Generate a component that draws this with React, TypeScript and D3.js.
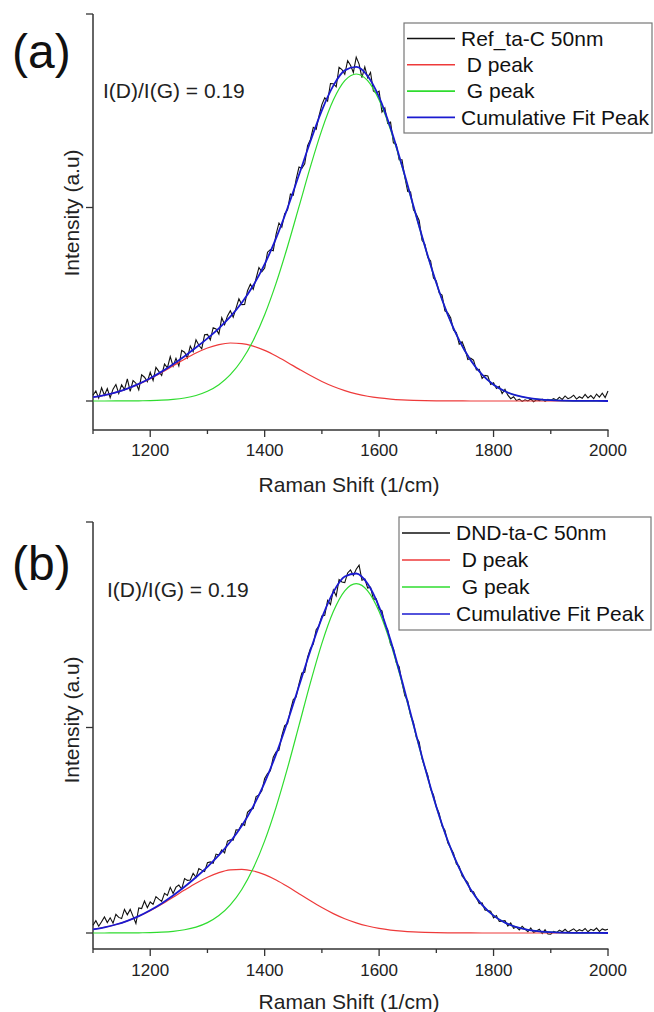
import React from 'react';
import * as d3 from 'd3';

// ---------- data ----------
const fitShift = [1100,1120,1140,1160,1180,1200,1220,1240,1260,1280,1300,1320,1340,1360,1380,1400,1420,1440,1460,1480,1500,1520,1540,1560,1580,1600,1620,1640,1660,1680,1700,1720,1740,1760,1780,1800,1820,1840,1860,1880,1900,1920,1940,1960,1980,2000];

const dPeakA = [0.0197,0.0302,0.0446,0.0635,0.0873,0.1156,0.1477,0.1820,0.2162,0.2477,0.2737,0.2916,0.2997,0.2969,0.2838,0.2615,0.2324,0.1992,0.1647,0.1313,0.1009,0.0748,0.0535,0.0369,0.0245,0.0157,0.0097,0.0058,0.0033,0.0018,0.0010,0.0005,0.0003,0.0001,0,0,0,0,0,0,0,0,0,0,0,0];
const gPeakA = [0.0000,0.0001,0.0002,0.0004,0.0009,0.0020,0.0041,0.0082,0.0156,0.0285,0.0501,0.0842,0.1360,0.2106,0.3128,0.4457,0.6091,0.7985,1.0042,1.2111,1.4012,1.5550,1.6552,1.6900,1.6552,1.5550,1.4012,1.2111,1.0042,0.7985,0.6091,0.4457,0.3128,0.2106,0.1360,0.0842,0.0501,0.0285,0.0156,0.0082,0.0041,0.0020,0.0009,0.0004,0.0002,0.0001];
const cumA = [0.0197,0.0303,0.0448,0.0639,0.0882,0.1176,0.1518,0.1902,0.2318,0.2762,0.3238,0.3758,0.4357,0.5075,0.5966,0.7072,0.8415,0.9977,1.1689,1.3424,1.5021,1.6298,1.7087,1.7269,1.6797,1.5707,1.4109,1.2169,1.0075,0.8003,0.6101,0.4462,0.3131,0.2107,0.1360,0.0842,0.0501,0.0285,0.0156,0.0082,0.0041,0.0020,0.0009,0.0004,0.0002,0.0001];

const dPeakB = [0.0181,0.0278,0.0412,0.0589,0.0814,0.1086,0.1399,0.1740,0.2090,0.2425,0.2716,0.2938,0.3070,0.3097,0.3017,0.2838,0.2578,0.2261,0.1915,0.1567,0.1238,0.0944,0.0695,0.0495,0.0340,0.0225,0.0144,0.0089,0.0053,0.0031,0.0017,0.0009,0.0005,0.0002,0.0001,0,0,0,0,0,0,0,0,0,0,0];
const gPeakB = [0.0000,0.0001,0.0002,0.0004,0.0009,0.0020,0.0041,0.0082,0.0157,0.0287,0.0504,0.0847,0.1368,0.2118,0.3147,0.4483,0.6127,0.8032,1.0101,1.2183,1.4095,1.5642,1.6650,1.7000,1.6650,1.5642,1.4095,1.2183,1.0101,0.8032,0.6127,0.4483,0.3147,0.2118,0.1368,0.0847,0.0504,0.0287,0.0157,0.0082,0.0041,0.0020,0.0009,0.0004,0.0002,0.0001];
const cumB = [0.0181,0.0279,0.0414,0.0593,0.0823,0.1106,0.1440,0.1822,0.2247,0.2712,0.3220,0.3785,0.4438,0.5215,0.6164,0.7321,0.8705,1.0293,1.2016,1.3750,1.5333,1.6586,1.7345,1.7495,1.6990,1.5867,1.4239,1.2272,1.0154,0.8063,0.6144,0.4492,0.3152,0.2120,0.1369,0.0847,0.0504,0.0287,0.0157,0.0082,0.0041,0.0020,0.0009,0.0004,0.0002,0.0001];

// measured spectra, 1100..2000 in steps of 5 cm^-1
const rawStart = 1100;
const rawStep = 5;
const rawA = [
0.030,0.052,0.015,0.068,0.030,0.064,0.017,0.061,0.085,0.039,
0.084,0.059,0.114,0.050,0.106,0.092,0.058,0.135,0.123,0.100,
0.148,0.106,0.174,0.153,0.132,0.191,0.171,0.230,0.180,0.220,
0.181,0.261,0.252,0.223,0.284,0.255,0.316,0.288,0.270,0.342,
0.344,
0.316,0.379,0.372,0.346,0.430,0.395,0.440,0.466,0.433,0.480,
0.528,0.498,0.499,0.570,0.603,0.577,0.633,0.690,0.668,0.687,
0.769,0.782,0.776,0.862,0.920,0.898,0.968,0.988,1.070,1.063,
1.146,1.209,1.203,1.226,1.319,1.352,1.414,1.404,1.474,1.532,
1.567,1.550,1.641,1.640,1.624,1.725,1.713,1.689,1.759,1.735,
1.698,1.777,1.741,1.671,1.727,1.670,1.698,1.602,1.592,1.601,
1.493,1.515,1.434,1.441,1.334,1.326,1.247,1.247,1.155,1.083,
1.080,0.988,0.965,0.933,0.831,0.810,0.742,0.724,0.636,0.620,
0.558,0.547,0.466,0.456,0.431,0.366,0.354,0.293,0.306,0.269,
0.214,0.221,0.211,0.161,0.163,0.116,0.132,0.129,0.086,0.094,
0.065,0.076,0.038,0.060,0.030,0.012,0.022,0.002,0.010,-0.002,
0.006,0.000,0.010,-0.004,0.006,0.002,0.010,-0.002,0.008,0.004,
0.012,0.004,0.020,0.008,0.026,0.012,0.018,0.030,0.010,0.022,
0.014,0.034,0.016,0.028,0.012,0.036,0.020,0.040,0.018,0.052];
const rawB = [
0.038,0.060,0.033,0.055,0.078,0.051,0.074,0.048,0.091,0.076,
0.070,0.115,0.089,0.115,0.081,0.046,0.122,0.119,0.156,0.123,
0.151,0.139,0.177,0.165,0.154,0.193,0.183,0.222,0.192,0.223,
0.233,0.214,0.265,0.256,0.258,0.290,0.271,0.314,0.306,0.299,
0.342,
0.346,0.340,0.384,0.379,0.404,0.390,0.447,0.454,0.452,0.502,
0.501,0.532,0.524,0.587,0.601,0.606,0.664,0.672,0.692,0.752,
0.776,0.790,0.855,0.881,0.890,0.960,1.009,1.019,1.083,1.136,
1.149,1.212,1.265,1.269,1.342,1.385,1.406,1.476,1.495,1.543,
1.546,1.618,1.598,1.669,1.640,1.720,1.708,1.705,1.752,1.767,
1.740,1.770,1.790,1.717,1.723,1.679,1.683,1.625,1.626,1.577,
1.568,1.498,1.476,1.404,1.385,1.316,1.296,1.217,1.154,1.131,
1.058,1.025,0.952,0.930,0.848,0.806,0.768,0.700,0.672,0.614,
0.582,0.520,0.500,0.439,0.414,0.388,0.336,0.325,0.278,0.261,
0.246,0.202,0.201,0.171,0.143,0.146,0.112,0.109,0.106,0.074,
0.085,0.056,0.058,0.060,0.034,0.049,0.023,0.029,0.015,0.032,
0.019,0.006,0.024,0.002,0.010,0.018,-0.003,0.016,-0.005,-0.006,
0.008,0.002,0.014,0.006,0.018,0.004,0.012,0.020,0.008,0.016,
0.010,0.022,0.006,0.018,0.012,0.024,0.008,0.020,0.014,0.018];

const majorTicks = [1200, 1400, 1600, 1800, 2000];
const minorTicks = [1100, 1300, 1500, 1700, 1900];
const yTicks = [0, 1, 2];
const legendLabelsA = ['Ref_ta-C 50nm', ' D peak', ' G peak', 'Cumulative Fit Peak'];
const legendLabelsB = ['DND-ta-C 50nm', ' D peak', ' G peak', 'Cumulative Fit Peak'];
const ratioText = 'I(D)/I(G) = 0.19';

// ---------- style ----------
const FONT = "Arial, 'Liberation Sans', Helvetica, sans-serif";
const COLORS = ['#111111', '#ee3a3a', '#2fdc2f', '#1a1ad0'];
const WIDTHS = [1.1, 1.2, 1.2, 1.8];
const AXIS = '#333';

type Cfg = {
  y0: number; y2: number; axisY: number; tickLabelY: number; titleY: number;
  yTitleY: number; letter: string; letterY: number; ratioX: number; ratioY: number;
  legend: { x: number; y: number; w: number; h: number; rowY: number; rowH: number; lineX: number; textX: number };
};

function Panel({ cfg, raw, d, g, cum, labels }: { cfg: Cfg; raw: number[]; d: number[]; g: number[]; cum: number[]; labels: string[] }) {
  const x = d3.scaleLinear().domain([1100, 2000]).range([93, 608]);
  const y = d3.scaleLinear().domain([0, 2]).range([cfg.y0, cfg.y2]);
  const rawLine = d3.line<number>().x((_, i) => x(rawStart + i * rawStep)).y((v) => y(v)).curve(d3.curveLinear);
  const fitLine = d3.line<number>().x((_, i) => x(fitShift[i])).y((v) => y(v)).curve(d3.curveMonotoneX);
  const L = cfg.legend;
  return (
    <g>
      {/* axes */}
      <line x1={93} x2={93} y1={cfg.y2} y2={cfg.axisY} stroke={AXIS} strokeWidth={1.5} />
      <line x1={93} x2={608.5} y1={cfg.axisY} y2={cfg.axisY} stroke={AXIS} strokeWidth={1.5} />
      {yTicks.map((t) => (
        <line key={'yt' + t} x1={86} x2={93} y1={y(t)} y2={y(t)} stroke={AXIS} strokeWidth={1.3} />
      ))}
      {majorTicks.map((t) => (
        <g key={'mt' + t}>
          <line x1={x(t)} x2={x(t)} y1={cfg.axisY} y2={cfg.axisY + 7} stroke={AXIS} strokeWidth={1.3} />
          <text x={x(t)} y={cfg.tickLabelY} textAnchor="middle" fontFamily={FONT} fontSize={17} fill="#222">{t}</text>
        </g>
      ))}
      {minorTicks.map((t) => (
        <line key={'nt' + t} x1={x(t)} x2={x(t)} y1={cfg.axisY} y2={cfg.axisY + 4} stroke={AXIS} strokeWidth={1.3} />
      ))}
      <text x={349} y={cfg.titleY} textAnchor="middle" fontFamily={FONT} fontSize={21} fill="#222">Raman Shift (1/cm)</text>
      <text transform={`translate(72,${cfg.yTitleY}) rotate(-90)`} textAnchor="middle" dy="0.35em" fontFamily={FONT} fontSize={21} fill="#222">Intensity (a.u)</text>

      {/* series */}
      <path d={rawLine(raw) || ''} fill="none" stroke={COLORS[0]} strokeWidth={WIDTHS[0]} />
      <path d={fitLine(d) || ''} fill="none" stroke={COLORS[1]} strokeWidth={WIDTHS[1]} />
      <path d={fitLine(g) || ''} fill="none" stroke={COLORS[2]} strokeWidth={WIDTHS[2]} />
      <path d={fitLine(cum) || ''} fill="none" stroke={COLORS[3]} strokeWidth={WIDTHS[3]} />

      {/* annotations */}
      <text x={12} y={cfg.letterY} fontFamily={FONT} fontSize={48} fill="#111">{cfg.letter}</text>
      <text x={cfg.ratioX} y={cfg.ratioY} fontFamily={FONT} fontSize={21} fill="#222">{ratioText}</text>

      {/* legend */}
      <rect x={L.x} y={L.y} width={L.w} height={L.h} fill="#fff" stroke="#777" strokeWidth={1.2} />
      {labels.map((lab, i) => (
        <g key={lab + i}>
          <line x1={L.lineX} x2={L.lineX + 48} y1={L.rowY + i * L.rowH} y2={L.rowY + i * L.rowH} stroke={COLORS[i]} strokeWidth={1.6} />
          <text x={L.textX} y={L.rowY + i * L.rowH} dy="0.35em" fontFamily={FONT} fontSize={21} fill="#111" style={{ whiteSpace: 'pre' }}>{lab}</text>
        </g>
      ))}
    </g>
  );
}

const cfgA: Cfg = {
  y0: 401, y2: 14, axisY: 430, tickLabelY: 456, titleY: 492, yTitleY: 213,
  letter: '(a)', letterY: 68, ratioX: 103, ratioY: 98,
  legend: { x: 404, y: 23, w: 248, h: 110, rowY: 38.5, rowH: 26.3, lineX: 407, textX: 461 },
};
const cfgB: Cfg = {
  y0: 933, y2: 522, axisY: 949, tickLabelY: 976, titleY: 1009, yTitleY: 720,
  letter: '(b)', letterY: 580, ratioX: 107, ratioY: 597,
  legend: { x: 399, y: 517, w: 252, h: 113, rowY: 533, rowH: 27, lineX: 402, textX: 456 },
};

export default function App() {
  return (
    <svg width={654} height={1012} style={{ position: 'absolute', left: 0, top: 0, background: '#fff' }}>
      <rect width={654} height={1012} fill="#fff" />
      <Panel cfg={cfgA} raw={rawA} d={dPeakA} g={gPeakA} cum={cumA} labels={legendLabelsA} />
      <Panel cfg={cfgB} raw={rawB} d={dPeakB} g={gPeakB} cum={cumB} labels={legendLabelsB} />
    </svg>
  );
}
